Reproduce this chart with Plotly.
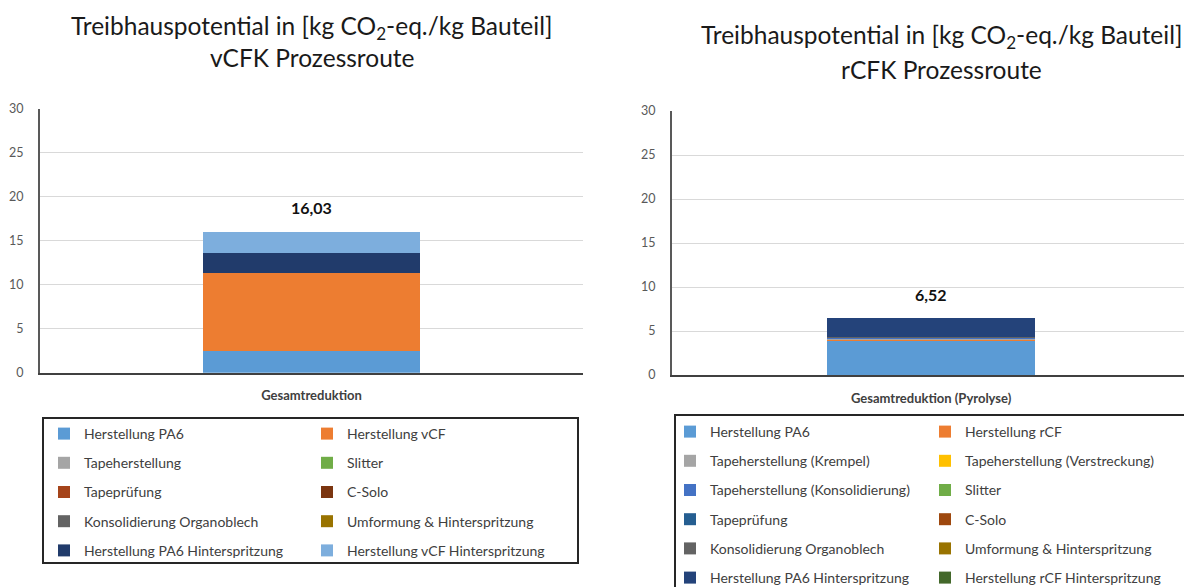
import plotly.graph_objects as go

W, H = 1184, 587

# ---------------- data ----------------
left_category = ["Gesamtreduktion"]
left_series = [
    "Herstellung PA6", "Herstellung vCF", "Tapeherstellung", "Slitter",
    "Tapeprüfung", "C-Solo", "Konsolidierung Organoblech",
    "Umformung & Hinterspritzung", "Herstellung PA6 Hinterspritzung",
    "Herstellung vCF Hinterspritzung",
]
left_values = [2.47, 8.90, 0.0, 0.0, 0.0, 0.0, 0.0, 0.0, 2.24, 2.42]
left_colors = ["#5B9BD5", "#ED7D31", "#A5A5A5", "#70AD47", "#A5441A", "#7B3510",
               "#636363", "#997300", "#213B6B", "#7DAEDD"]

right_category = ["Gesamtreduktion (Pyrolyse)"]
right_series = [
    "Herstellung PA6", "Herstellung rCF", "Tapeherstellung (Krempel)",
    "Tapeherstellung (Verstreckung)", "Tapeherstellung (Konsolidierung)", "Slitter",
    "Tapeprüfung", "C-Solo", "Konsolidierung Organoblech",
    "Umformung & Hinterspritzung", "Herstellung PA6 Hinterspritzung",
    "Herstellung rCF Hinterspritzung",
]
right_values = [3.90, 0.15, 0.08, 0.03, 0.05, 0.02, 0.03, 0.03, 0.05, 0.02, 2.16, 0.0]
right_colors = ["#5B9BD5", "#ED7D31", "#A5A5A5", "#FFC000", "#4472C4", "#70AD47",
                "#255E91", "#9E480E", "#636363", "#997300", "#24437A", "#43682B"]

y_ticks = [0, 5, 10, 15, 20, 25, 30]

FONT = "Lato"
px = lambda x: x / W
py = lambda y: 1 - y / H

fig = go.Figure()

# left chart traces: two legend columns (row-wise order)
for i, (name, val, col) in enumerate(zip(left_series, left_values, left_colors)):
    fig.add_trace(go.Bar(
        x=left_category, y=[val], name=name, marker=dict(color=col, line=dict(width=0)),
        width=0.4, xaxis="x", yaxis="y",
        legend="legend" if i % 2 == 0 else "legend2", legendgroup=f"l{i}",
        hoverinfo="name+y"))

for i, (name, val, col) in enumerate(zip(right_series, right_values, right_colors)):
    fig.add_trace(go.Bar(
        x=right_category, y=[val], name=name, marker=dict(color=col, line=dict(width=0)),
        width=0.4, xaxis="x2", yaxis="y2",
        legend="legend3" if i % 2 == 0 else "legend4", legendgroup=f"r{i}",
        hoverinfo="name+y"))

left_total = sum(left_values)
right_total = sum(right_values)

def fmt(v):
    return f"{v:.2f}".replace(".", ",")

TITLE_SIZE = 24.5
annotations = [
    dict(x=left_category[0], y=left_total, xref="x", yref="y", text=f"<b>{fmt(left_total)}</b>",
         showarrow=False, yanchor="bottom", yshift=13, font=dict(family=FONT, size=16, color="#111")),
    dict(x=right_category[0], y=right_total, xref="x2", yref="y2", text=f"<b>{fmt(right_total)}</b>",
         showarrow=False, yanchor="bottom", yshift=12, font=dict(family=FONT, size=16, color="#111")),
    dict(x=px(312), y=py(27), xref="paper", yref="paper", showarrow=False,
         text="Treibhauspotential in [kg CO<sub>2</sub>-eq./kg Bauteil]",
         font=dict(family=FONT, size=TITLE_SIZE, color="#1a1a1a"), xanchor="center", yanchor="middle"),
    dict(x=px(312), y=py(58), xref="paper", yref="paper", showarrow=False,
         text="vCFK Prozessroute",
         font=dict(family=FONT, size=TITLE_SIZE, color="#1a1a1a"), xanchor="center", yanchor="middle"),
    dict(x=px(941), y=py(37), xref="paper", yref="paper", showarrow=False,
         text="Treibhauspotential in [kg CO<sub>2</sub>-eq./kg Bauteil]",
         font=dict(family=FONT, size=TITLE_SIZE, color="#1a1a1a"), xanchor="center", yanchor="middle"),
    dict(x=px(941), y=py(70), xref="paper", yref="paper", showarrow=False,
         text="rCFK Prozessroute",
         font=dict(family=FONT, size=TITLE_SIZE, color="#1a1a1a"), xanchor="center", yanchor="middle"),
]

shapes = [
    dict(type="rect", xref="paper", yref="paper", x0=px(43), x1=px(578), y0=py(563), y1=py(418),
         line=dict(color="#262626", width=2)),
    dict(type="rect", xref="paper", yref="paper", x0=px(675), x1=px(1195), y0=py(600), y1=py(415),
         line=dict(color="#262626", width=2)),
]

axis_common = dict(showgrid=True, gridcolor="#D9D9D9", gridwidth=1, zeroline=False,
                   showline=True, linecolor="#595959", linewidth=2,
                   tickfont=dict(family=FONT, size=12.5, color="#595959"),
                   tickvals=y_ticks, range=[0, 30], ticks="", ticklabelstandoff=12,
                   fixedrange=True)
xaxis_common = dict(showgrid=False, zeroline=False, showline=True, linecolor="#404040",
                    linewidth=2, ticks="", type="category", ticklabelstandoff=10,
                    tickfont=dict(family=FONT, size=13, color="#404040", weight="bold"),
                    fixedrange=True)

leg_common = dict(orientation="v", xanchor="left", yanchor="top", tracegroupgap=8,
                  font=dict(family=FONT, size=14, color="#404040"), bgcolor="rgba(0,0,0,0)",
                  borderwidth=0, itemclick=False, itemdoubleclick=False)

fig.update_layout(
    width=W, height=H, autosize=False,
    margin=dict(l=0, r=0, t=0, b=0, autoexpand=False),
    paper_bgcolor="white", plot_bgcolor="white",
    barmode="stack", showlegend=True,
    font=dict(family=FONT),
    xaxis=dict(domain=[px(40), px(583)], range=[-0.5, 0.5], anchor="y", **xaxis_common),
    yaxis=dict(domain=[py(372.7), py(109)], anchor="x", **axis_common),
    xaxis2=dict(domain=[px(672), 1.0], range=[-0.5, 0.488], anchor="y2", **xaxis_common),
    yaxis2=dict(domain=[py(375), py(111)], anchor="x2", **axis_common),
    legend=dict(x=px(44), y=py(418), **leg_common),
    legend2=dict(x=px(307), y=py(418), **leg_common),
    legend3=dict(x=px(670), y=py(416), **leg_common),
    legend4=dict(x=px(925), y=py(416), **leg_common),
    annotations=annotations,
    shapes=shapes,
)

fig.write_html(
    "out.html",
    config={"displayModeBar": False},
    post_script="document.body.style.margin='0';document.body.style.overflow='hidden';",
)
